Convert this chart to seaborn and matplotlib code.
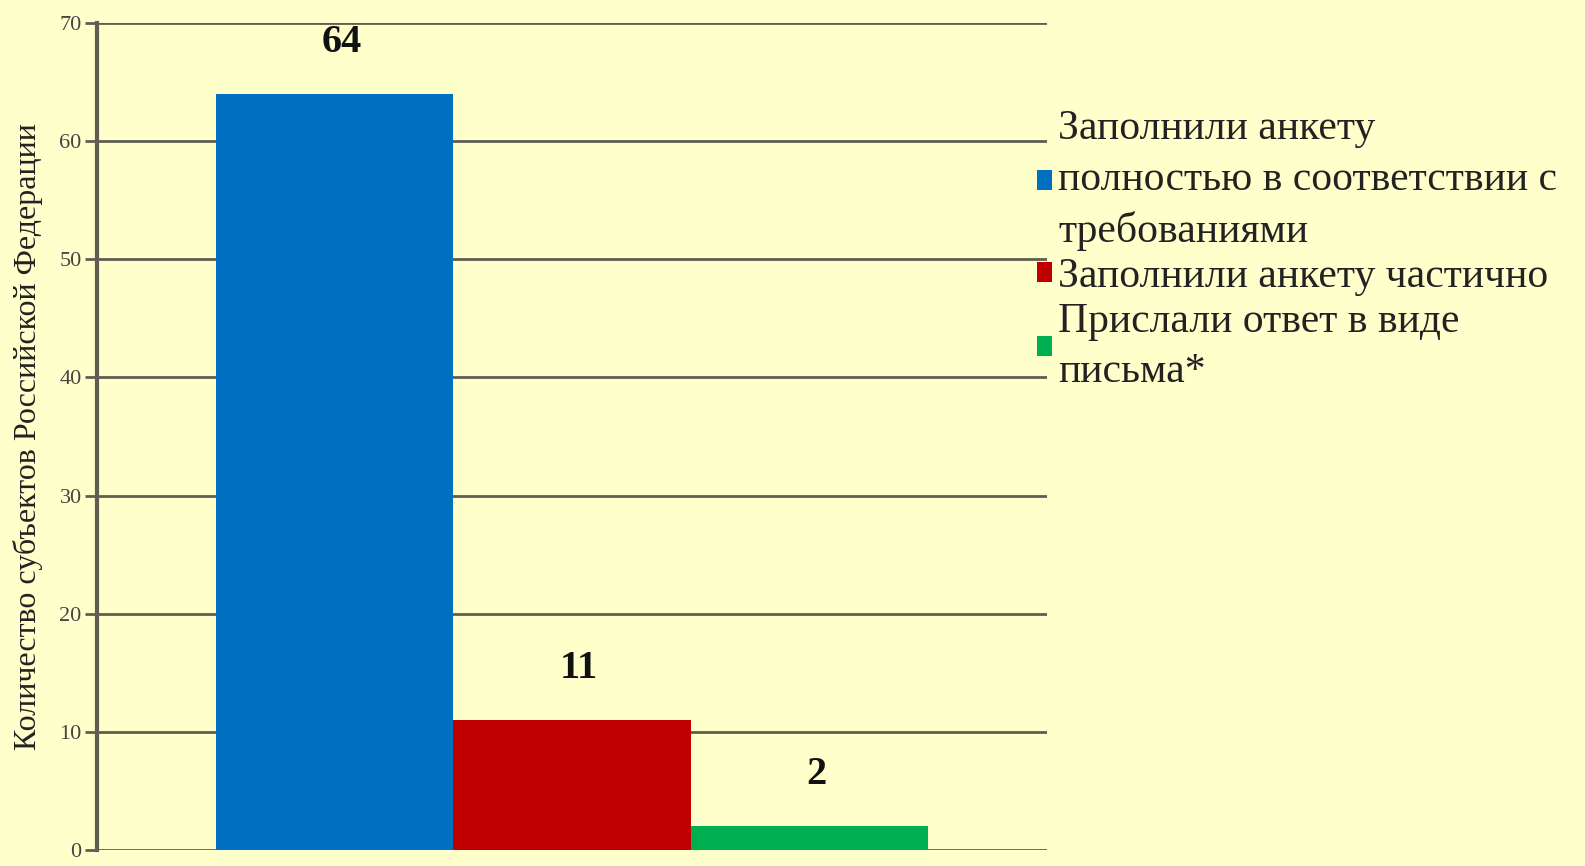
import matplotlib
matplotlib.use("Agg")
import matplotlib.pyplot as plt
import seaborn as sns
import pandas as pd
from matplotlib.patches import Patch

# data
categories = [
    "Заполнили анкету\nполностью в соответствии с\nтребованиями",
    "Заполнили анкету частично",
    "Прислали ответ в виде\nписьма*",
]
values = [64, 11, 2]
colors = ["#0070C0", "#C00000", "#00B050"]
y_label = "Количество субъектов Российской Федерации"
y_ticks = [0, 10, 20, 30, 40, 50, 60, 70]

bg = "#FFFFCC"
grid_col = "#5e5e50"

sns.set_theme(style="white")
plt.rcParams["font.family"] = ["Liberation Serif", "DejaVu Serif"]

df = pd.DataFrame({"cat": categories, "val": values})

fig = plt.figure(figsize=(15.85, 8.66), dpi=100, facecolor=bg)
ax = fig.add_axes([97 / 1585, 16 / 866, 950 / 1585, 827 / 866])
ax.set_facecolor(bg)

sns.barplot(data=df, x="cat", y="val", hue="cat", palette=colors,
            width=1.0, saturation=1, legend=False, ax=ax, zorder=3,
            edgecolor="none", linewidth=0)

ax.set_xlim(-1, 3)
ax.set_ylim(0, 70)
ax.set_yticks(y_ticks)
ax.set_xticks([])
ax.set_xlabel("")
ax.set_ylabel(y_label, fontsize=23, color="#222222", labelpad=12)
ax.tick_params(axis="y", labelsize=16, labelcolor="#444444", color=grid_col,
               length=9, width=2, direction="out", pad=2, left=True)

for yv in y_ticks:
    ax.axhline(yv, color=grid_col, lw=2, zorder=1)

for s in ["top", "right", "bottom"]:
    ax.spines[s].set_visible(False)
ax.spines["left"].set_color(grid_col)
ax.spines["left"].set_linewidth(3)

for i, v in enumerate(values):
    ax.annotate(str(v), xy=(i + 0.03, v), xytext=(0, 37), textcoords="offset points",
                ha="center", va="center", fontsize=29, fontweight="bold", color="#111111")

handles = [Patch(facecolor=c, edgecolor="none") for c in colors]
leg = ax.legend(handles, categories, loc="upper left", bbox_to_anchor=(0.972, 0.915),
                frameon=False, fontsize=30, handlelength=0.36, handleheight=0.36,
                handletextpad=0.15, labelspacing=0.15, borderaxespad=0)
for t in leg.get_texts():
    t.set_color("#222222")
    t.set_linespacing(1.4)

fig.savefig("out.png", dpi=100, facecolor=bg)
